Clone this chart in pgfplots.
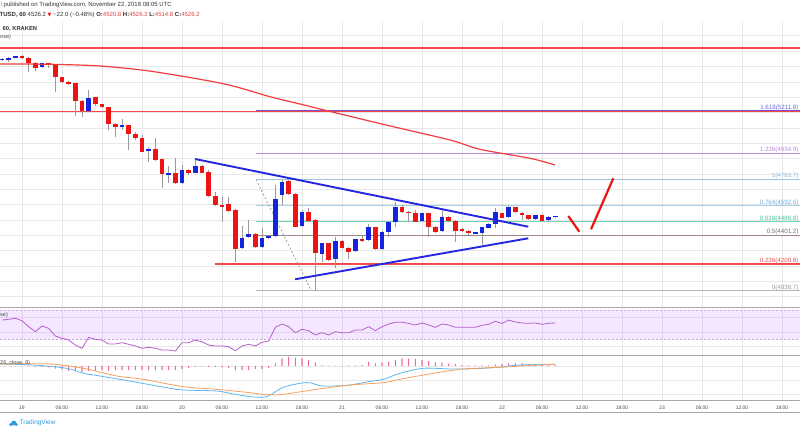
\documentclass[border=0pt]{standalone}
\usepackage{pgfplots}
\pgfplotsset{compat=1.18}
\usepackage{pgfplotstable}
\usepackage{fontspec}
\setmainfont{Liberation Sans}
\newfontfamily\dejavu{DejaVu Sans}

\definecolor{gridc}{HTML}{E8E8E8}
\definecolor{sepc}{HTML}{A8A8A8}
\definecolor{upc}{HTML}{1424E0}
\definecolor{dnc}{HTML}{EE1414}
\definecolor{wickc}{HTML}{9A9A9A}
\definecolor{mac}{HTML}{F03C3C}
\definecolor{hred}{HTML}{F2474A}
\definecolor{trendc}{HTML}{2626E0}
\definecolor{fibA}{HTML}{7A50C4}
\definecolor{fibAl}{HTML}{6A6AD8}
\definecolor{fibB}{HTML}{BC8AD8}
\definecolor{fibC}{HTML}{9AC7DE}
\definecolor{fibCl}{HTML}{86BDE0}
\definecolor{fibD}{HTML}{A8CFE6}
\definecolor{fibDl}{HTML}{6AAEDB}
\definecolor{fibE}{HTML}{6FD8B0}
\definecolor{fibEl}{HTML}{45C495}
\definecolor{fibF}{HTML}{9C8686}
\definecolor{fibFl}{HTML}{7A6A6A}
\definecolor{fibG}{HTML}{F05050}
\definecolor{fibH}{HTML}{B5B5B5}
\definecolor{fibHl}{HTML}{9A9A9A}
\definecolor{rsic}{HTML}{B35FCC}
\definecolor{rsiband}{HTML}{9915FF}
\definecolor{rsidash}{HTML}{C8A8DC}
\definecolor{macdc}{HTML}{5CB6F0}
\definecolor{sigc}{HTML}{F9A05A}
\definecolor{histc}{HTML}{EF6B9C}
\definecolor{hdrc}{HTML}{333333}
\definecolor{valc}{HTML}{E0403A}
\definecolor{labc}{HTML}{4A4A4A}
\definecolor{tvblue}{HTML}{2D9CDB}

\pgfplotstableread{
h o hi lo c
-3 5542.2 5558.5 5535.7 5550.7
-2 5548.7 5561.7 5529.1 5555.2
-1 5558.5 5571.5 5555.2 5566.3
0 5568.3 5574.8 5548.7 5553.3
1 5553.3 5561.7 5465.9 5520.7
2 5520.7 5529.1 5470.5 5492.0
3 5494.6 5525.9 5490.0 5520.7
4 5520.7 5525.9 5490.0 5507.6
5 5509.6 5516.1 5335.6 5429.4
6 5429.4 5434.6 5395.5 5400.8
7 5400.8 5405.3 5382.5 5387.7
8 5390.3 5392.3 5177.2 5275.0
9 5275.0 5281.5 5172.7 5209.8
10 5209.8 5346.7 5206.6 5296.5
11 5299.1 5304.3 5242.4 5253.5
12 5255.4 5258.7 5232.6 5237.8
13 5233.9 5235.9 5086.0 5125.1
14 5125.1 5131.6 5038.4 5103.6
15 5103.6 5155.7 5086.0 5118.6
16 5118.6 5121.8 4955.6 5058.0
17 5059.9 5073.0 5020.8 5031.9
18 5031.9 5053.4 4939.4 4944.6
19 4949.1 4977.2 4879.4 4960.2
20 4960.2 5031.9 4884.0 4890.5
21 4895.0 4900.2 4706.0 4799.2
22 4792.7 4851.4 4742.5 4807.7
23 4807.7 4903.5 4737.3 4742.5
24 4742.5 4857.9 4737.3 4825.3
25 4825.3 4831.8 4792.7 4807.7
26 4807.7 4895.0 4802.5 4851.4
27 4851.4 4857.9 4802.5 4807.7
28 4814.2 4822.1 4649.4 4655.9
29 4655.9 4683.9 4590.7 4597.2
30 4597.2 4651.3 4488.4 4590.7
31 4603.7 4651.3 4551.6 4558.1
32 4564.6 4571.1 4227.7 4308.5
33 4315.0 4460.4 4310.5 4384.1
34 4386.7 4499.5 4382.2 4406.3
35 4406.3 4411.5 4320.2 4325.5
36 4321.5 4447.3 4317.0 4380.2
37 4382.2 4401.7 4375.6 4395.2
38 4395.2 4727.6 4388.7 4634.4
39 4662.4 4756.9 4597.2 4749.1
40 4753.6 4760.1 4662.4 4666.9
41 4666.9 4677.4 4450.6 4455.8
42 4460.4 4561.4 4453.8 4553.6
43 4553.6 4575.7 4486.4 4492.9
44 4499.5 4506.0 4038.7 4282.4
45 4277.9 4352.8 4227.7 4347.6
46 4347.6 4352.8 4232.3 4238.8
47 4243.3 4390.6 4184.7 4362.6
48 4362.6 4369.1 4313.7 4318.9
49 4318.9 4323.5 4243.3 4292.9
50 4297.4 4378.9 4290.9 4373.7
51 4373.7 4395.2 4359.3 4364.6
52 4369.1 4473.4 4362.6 4451.9
53 4451.9 4457.1 4303.9 4308.5
54 4308.5 4427.8 4303.9 4423.2
55 4419.3 4489.7 4390.6 4484.5
56 4484.5 4618.7 4455.8 4586.1
57 4586.1 4594.0 4548.3 4553.6
58 4553.6 4558.1 4488.4 4543.1
59 4547.0 4561.4 4483.2 4488.4
60 4492.9 4548.3 4486.4 4543.1
61 4543.1 4548.3 4390.6 4455.8
62 4455.8 4460.4 4418.0 4423.2
63 4429.7 4564.6 4424.5 4517.1
64 4517.1 4522.3 4486.4 4492.9
65 4492.9 4499.5 4358.0 4429.7
66 4438.8 4444.1 4421.3 4427.8
67 4429.7 4434.3 4401.7 4412.8
68 4412.8 4421.3 4408.2 4416.7
69 4416.7 4457.1 4336.5 4451.9
70 4449.3 4476.7 4444.1 4471.4
71 4471.4 4579.6 4447.3 4549.6
72 4543.1 4548.3 4509.3 4514.5
73 4517.1 4590.7 4512.5 4582.2
74 4582.2 4587.4 4545.1 4549.6
75 4547.0 4551.6 4499.5 4530.1
76 4532.0 4535.3 4502.7 4507.9
77 4507.9 4535.3 4502.7 4530.1
78 4534.0 4538.6 4489.7 4494.9
79 4499.5 4522.3 4483.2 4517.1
80 4520.8 4526.2 4514.8 4526.2
}\candles

\pgfplotstableread{
h rsi
-3 56.3
-2 57.3
-1 58.7
0 55.4
1 47.2
2 40.4
3 48.2
4 45.0
5 34.5
6 31.4
7 29.0
8 22.2
9 17.7
10 32.7
11 30.0
12 29.0
13 23.6
14 23.6
15 25.4
16 23.2
17 20.9
18 17.7
19 19.1
20 17.7
21 15.4
22 15.4
23 14.0
24 25.4
25 25.4
26 29.0
27 26.7
28 22.2
29 20.9
30 20.9
31 19.9
32 14.4
33 20.9
34 23.2
35 20.9
36 25.9
37 27.7
38 46.4
39 50.9
40 47.2
41 39.0
42 43.7
43 41.7
44 35.9
45 39.0
46 35.9
47 40.4
48 39.0
49 39.0
50 42.7
51 42.7
52 47.2
53 41.7
54 47.2
55 50.9
56 53.2
57 53.2
58 51.8
59 49.5
60 52.3
61 49.5
62 46.4
63 50.9
64 49.5
65 46.4
66 46.4
67 46.4
68 46.4
69 49.1
70 50.5
71 54.6
72 51.8
73 56.3
74 53.6
75 52.3
76 51.8
77 52.3
78 50.5
79 51.8
80 52.3
}\rsitab

\pgfplotstableread{
h v
-3 0
-2 0
-1 -2
0 -2
1 -3.6
2 -7.1
3 -7.1
4 -10.7
5 -17.9
6 -25
7 -35.7
8 -35.7
9 -42.8
10 -35.7
11 -35.7
12 -28.6
13 -35.7
14 -28.6
15 -28.6
16 -28.6
17 -28.6
18 -28.6
19 -28.6
20 -28.6
21 -28.6
22 -28.6
23 -28.6
24 -21.4
25 -14.3
26 -7.1
27 -3.6
28 -7.1
29 -7.1
30 -10.7
31 -14.3
32 -28.6
33 -28.6
34 -28.6
35 -21.4
36 -21.4
37 -14.3
38 19.3
39 55
40 66.4
41 59.3
42 55
43 42.8
44 23.6
45 5
46 2.1
47 2.1
48 -2.1
49 3.6
50 3.6
51 7.1
52 30.7
53 19.3
54 23.6
55 30.7
56 42.8
57 55
58 55
59 50
60 42.8
61 35.7
62 26.4
63 23.6
64 19.3
65 14.3
66 7.1
67 3.6
68 3.6
69 3.6
70 3.6
71 12.1
72 14.3
73 19.3
74 19.3
75 19.3
76 14.3
77 12.1
78 12.1
79 9.3
80 7.1
}\histtab

\begin{document}
\begin{tikzpicture}
\useasboundingbox (0pt,0pt) rectangle (800pt,-430pt);

% ---------------- main price panel ----------------
\begin{axis}[
  scale only axis, width=800pt, height=285pt,
  at={(0pt,-307pt)}, anchor=south west,
  xmin=-3.3, xmax=116.7, ymin=3932.5, ymax=5789.8,
  xtick={0,6,...,114}, ytick={4000,4100,...,5700},
  xticklabels={}, yticklabels={},
  tick style={draw=none},
  grid=major, grid style={gridc, line width=0.6pt},
  axis line style={draw=none},
  candle/.style={only marks, mark=*, mark size=0pt, mark options={draw=none, fill=none}, forget plot},
]
% horizontal resistance / support
\addplot[hred, line width=1.4pt] coordinates {(-3.3,5620.4) (116.7,5620.4)};
\addplot[hred, line width=1.4pt] coordinates {(-3.3,5208) (116.7,5208)};
\addplot[hred, line width=1.6pt] coordinates {(28.95,4211) (116.7,4211)};
% fibonacci levels
\addplot[fibA, line width=1.3pt] coordinates {(35.1,5211.8) (116.7,5211.8)};
\addplot[fibB, line width=0.9pt] coordinates {(35.1,4934.9) (116.7,4934.9)};
\addplot[fibC, line width=0.8pt] coordinates {(35.1,4763.7) (116.7,4763.7)};
\addplot[fibD, line width=1.3pt] coordinates {(35.1,4592.6) (116.7,4592.6)};
\addplot[fibE, line width=0.9pt] coordinates {(35.1,4486.8) (116.7,4486.8)};
\addplot[fibF, line width=1.1pt] coordinates {(35.1,4401.2) (116.7,4401.2)};
\addplot[fibG, line width=0.9pt] coordinates {(35.1,4209.8) (116.7,4209.8)};
\addplot[fibH, line width=1.2pt] coordinates {(35.1,4038.7) (116.7,4038.7)};
% fib anchor (dashed)
\addplot[wickc, line width=0.7pt, dash pattern=on 2pt off 2pt] coordinates {(35.1,4763.7) (43.4,4038.7)};
% wicks
\addplot[candle,
  error bars/.cd, y dir=both, y explicit, error mark=none,
  error bar style={line width=0.9pt, draw=wickc}]
  table[x=h, y expr={(\thisrow{hi}+\thisrow{lo})/2}, y error expr={(\thisrow{hi}-\thisrow{lo})/2}] {\candles};
% up bodies
\addplot[candle,
  x filter/.expression={\thisrow{c}>=\thisrow{o} ? x : nan},
  error bars/.cd, y dir=both, y explicit, error mark=none,
  error bar style={line width=4.6pt, draw=upc}]
  table[x=h, y expr={(\thisrow{o}+\thisrow{c})/2}, y error expr={max(abs(\thisrow{c}-\thisrow{o})/2,3.5)}] {\candles};
% down bodies
\addplot[candle,
  x filter/.expression={\thisrow{c}<\thisrow{o} ? x : nan},
  error bars/.cd, y dir=both, y explicit, error mark=none,
  error bar style={line width=4.6pt, draw=dnc}]
  table[x=h, y expr={(\thisrow{o}+\thisrow{c})/2}, y error expr={max(abs(\thisrow{c}-\thisrow{o})/2,3.5)}] {\candles};
% moving average
\addplot[mac, line width=1.2pt, smooth] coordinates {
(-3.3,5516.1) (4.2,5514.2) (11.7,5503.1) (18.75,5472.4) (26.7,5416.4) (31.65,5372.7)
(37.2,5303.0) (41.7,5255.4) (45.75,5211.8) (54.15,5123.1) (64.2,5020.8) (68.7,4960.2)
(76.2,4901.6) (79.95,4857.9)};
% triangle trend lines
\addplot[trendc, line width=1.9pt] coordinates {(25.95,4897.0) (75.94,4455.8)};
\addplot[trendc, line width=1.9pt] coordinates {(40.95,4113.0) (75.94,4380.2)};
% projected path
\addplot[dnc, line width=2.2pt] coordinates {(81.94,4525.5) (83.6,4423.2)};
\addplot[dnc, line width=2.2pt] coordinates {(85.35,4438.8) (88.7,4771.2)};
% fib labels
\begin{scope}[every node/.style={anchor=base east, inner sep=0pt, font=\fontsize{6.2}{7}\selectfont, yshift=1.6pt}]
\node[text=fibAl] at (axis cs:116.5,5211.8) {1.618(5211.8)};
\node[text=fibB] at (axis cs:116.5,4934.9) {1.236(4934.9)};
\node[text=fibCl] at (axis cs:116.5,4763.7) {1(4763.7)};
\node[text=fibDl] at (axis cs:116.5,4592.6) {0.764(4592.6)};
\node[text=fibEl] at (axis cs:116.5,4486.8) {0.618(4486.8)};
\node[text=fibFl] at (axis cs:116.5,4401.2) {0.5(4401.2)};
\node[text=fibG] at (axis cs:116.5,4209.8) {0.236(4209.8)};
\node[text=fibHl] at (axis cs:116.5,4038.7) {0(4038.7)};
\end{scope}
\end{axis}

% ---------------- RSI panel ----------------
\begin{axis}[
  scale only axis, width=800pt, height=48pt,
  at={(0pt,-355pt)}, anchor=south west,
  xmin=-3.3, xmax=116.7, ymin=8.57, ymax=74.1,
  xtick={0,6,...,114}, ytick={20,40,60},
  xticklabels={}, yticklabels={},
  tick style={draw=none},
  grid=major, grid style={gridc, line width=0.6pt},
  axis line style={draw=none},
]
\addplot[draw=none, fill=rsiband, fill opacity=0.1] coordinates {(-3.3,30) (116.7,30) (116.7,70) (-3.3,70)} \closedcycle;
\addplot[rsidash, line width=0.6pt, dash pattern=on 2pt off 2pt] coordinates {(-3.3,70) (116.7,70)};
\addplot[rsidash, line width=0.6pt, dash pattern=on 2pt off 2pt] coordinates {(-3.3,30) (116.7,30)};
\addplot[rsic, line width=0.8pt] table[x=h, y=rsi] {\rsitab};
\end{axis}

% ---------------- MACD panel ----------------
\begin{axis}[
  scale only axis, width=800pt, height=45pt,
  at={(0pt,-400pt)}, anchor=south west,
  xmin=-3.3, xmax=116.7, ymin=-242.8, ymax=78.5,
  xtick={0,6,...,114}, ytick={-200,-100,0},
  xticklabels={19,06:00,12:00,18:00,20,06:00,12:00,18:00,21,06:00,12:00,18:00,22,06:00,12:00,18:00,23,06:00,12:00,18:00},
  yticklabels={},
  xticklabel style={font=\fontsize{5}{6}\selectfont, text=labc, yshift=-2.2pt},
  tick style={draw=none},
  grid=major, grid style={gridc, line width=0.6pt},
  axis line style={draw=none},
]
\addplot[ybar, bar width=1.1pt, fill=histc, draw=none] table[x=h, y=v] {\histtab};
\addplot[macdc, line width=0.8pt, smooth] coordinates {
(-3.3,14.3) (1.7,7.1) (6.7,-16.4) (9.2,-52.1) (11.7,-71.4) (16.7,-112.1) (21.7,-154.9)
(24.2,-171.4) (29.2,-178.5) (31.7,-199.9) (34.2,-219.2) (36.2,-223.5) (37.2,-207.1)
(39.2,-152.1) (41.7,-123.5) (43.2,-119.2) (44.7,-140.7) (46.7,-142.8) (49.2,-135.7)
(51.7,-114.2) (54.2,-95.0) (56.7,-52.1) (60.2,-16.4) (64.2,-21.4) (66.2,-21.4)
(69.2,-16.4) (72.2,-5.0) (74.7,7.1) (79.95,12.1)};
\addplot[sigc, line width=0.8pt, smooth] coordinates {
(-3.3,14.3) (4.2,14.3) (9.2,-16.4) (14.2,-71.4) (18.2,-95.0) (24.2,-147.8) (29.2,-166.4)
(34.2,-190.6) (36.7,-204.9) (39.2,-202.1) (44.2,-166.4) (49.2,-135.7) (54.2,-119.2)
(56.7,-95.0) (61.7,-52.1) (66.2,-21.4) (71.7,-9.3) (76.7,5.0) (79.95,12.1)};
\end{axis}

% panel separators
\draw[sepc, line width=0.9pt] (0pt,-307pt) -- (800pt,-307pt);
\draw[sepc, line width=0.9pt] (0pt,-355pt) -- (800pt,-355pt);
\draw[sepc, line width=0.9pt] (0pt,-400pt) -- (800pt,-400pt);
\draw[sepc, line width=0.8pt] (0pt,-412pt) -- (800pt,-412pt);

% header texts
\node[anchor=west, inner sep=0pt, font=\fontsize{6}{7}\selectfont, text=hdrc] at (0.5pt,-5pt)
  {\textcolor{tvblue}{l} published on TradingView.com, November 22, 2018 08:05 UTC};
\node[anchor=west, inner sep=0pt, font=\fontsize{6}{7}\selectfont, text=hdrc] at (-0.5pt,-14.5pt)
  {\textbf{TUSD, 60} 4526.2 {\dejavu\fontsize{5}{6}\selectfont\textcolor{dnc}{▼}} −22.0 (−0.48\%) \textbf{O:}\textcolor{valc}{4520.8} \textbf{H:}\textcolor{valc}{4526.2} \textbf{L:}\textcolor{valc}{4514.8} \textbf{C:}\textcolor{valc}{4526.2}};
\node[anchor=west, inner sep=0pt, font=\bfseries\fontsize{5.8}{7}\selectfont, text=hdrc] at (2.5pt,-29pt) {60, KRAKEN};
\node[anchor=west, inner sep=0pt, font=\fontsize{5.5}{7}\selectfont, text=labc] at (0pt,-37.5pt) {ose)};
\node[anchor=west, inner sep=0pt, font=\fontsize{5.5}{7}\selectfont, text=labc] at (0pt,-315pt) {se)};
\node[anchor=west, inner sep=0pt, font=\fontsize{5.5}{7}\selectfont, text=labc] at (0pt,-362.7pt) {26, close, 9)};
% logo
\fill[tvblue] (11pt,-424.5pt) circle (1.8pt);
\fill[tvblue] (13.8pt,-423pt) circle (2.4pt);
\fill[tvblue] (16.3pt,-424.5pt) circle (1.6pt);
\node[anchor=west, inner sep=0pt, font=\fontsize{6.5}{7}\selectfont, text=tvblue] at (19.5pt,-423pt) {TradingView};
\end{tikzpicture}
\end{document}
